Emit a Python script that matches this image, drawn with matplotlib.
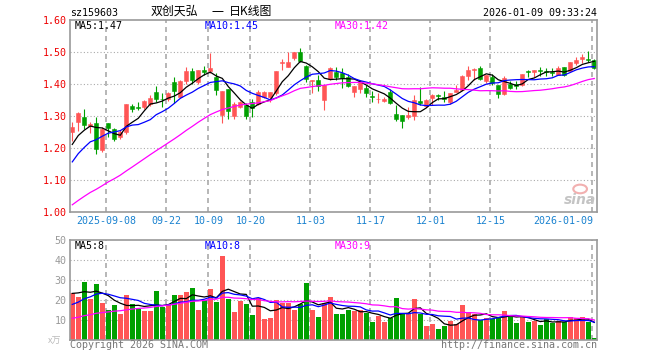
import numpy as np
import pandas as pd
import matplotlib
matplotlib.use("Agg")
import matplotlib.pyplot as plt
from matplotlib.patches import Ellipse

plt.rcParams['font.family'] = ['DejaVu Sans Mono', 'Noto Sans CJK SC']

# 日K数据: 2025-08-29 ~ 2026-01-09, 共 88 根
opens = [1.250, 1.281, 1.297, 1.270, 1.278, 1.193, 1.278, 1.258, 1.234, 1.250,
         1.331, 1.327, 1.327, 1.339, 1.375, 1.354, 1.352, 1.406, 1.360, 1.408,
         1.440, 1.406, 1.443, 1.440, 1.422, 1.304, 1.385, 1.300, 1.329, 1.335,
         1.345, 1.336, 1.360, 1.358, 1.371, 1.466, 1.453, 1.480, 1.500, 1.456,
         1.410, 1.411, 1.349, 1.415, 1.437, 1.434, 1.422, 1.374, 1.383, 1.389,
         1.361, 1.352, 1.348, 1.375, 1.307, 1.302, 1.297, 1.301, 1.347, 1.331,
         1.355, 1.367, 1.359, 1.344, 1.375, 1.382, 1.425, 1.445, 1.450, 1.408,
         1.422, 1.396, 1.368, 1.401, 1.400, 1.396, 1.441, 1.437, 1.443, 1.440,
         1.437, 1.427, 1.453, 1.440, 1.467, 1.479, 1.479, 1.474]
closes = [1.266, 1.309, 1.273, 1.275, 1.198, 1.258, 1.264, 1.229, 1.250, 1.337,
          1.323, 1.325, 1.346, 1.356, 1.354, 1.352, 1.372, 1.377, 1.409, 1.440,
          1.414, 1.443, 1.438, 1.450, 1.380, 1.377, 1.315, 1.337, 1.344, 1.300,
          1.325, 1.376, 1.376, 1.374, 1.440, 1.470, 1.470, 1.500, 1.472, 1.415,
          1.412, 1.394, 1.398, 1.450, 1.422, 1.419, 1.393, 1.393, 1.408, 1.371,
          1.359, 1.354, 1.354, 1.341, 1.290, 1.284, 1.303, 1.349, 1.341, 1.349,
          1.367, 1.362, 1.352, 1.372, 1.382, 1.424, 1.443, 1.448, 1.417, 1.427,
          1.404, 1.370, 1.420, 1.389, 1.393, 1.430, 1.439, 1.443, 1.440, 1.436,
          1.433, 1.450, 1.427, 1.469, 1.476, 1.484, 1.476, 1.450]
highs = [1.281, 1.311, 1.323, 1.281, 1.297, 1.265, 1.279, 1.262, 1.257, 1.338,
         1.337, 1.344, 1.349, 1.365, 1.394, 1.373, 1.375, 1.423, 1.412, 1.453,
         1.450, 1.445, 1.456, 1.498, 1.435, 1.377, 1.385, 1.344, 1.347, 1.342,
         1.352, 1.380, 1.378, 1.376, 1.441, 1.478, 1.499, 1.501, 1.512, 1.460,
         1.413, 1.427, 1.398, 1.453, 1.453, 1.450, 1.432, 1.394, 1.411, 1.398,
         1.378, 1.373, 1.359, 1.385, 1.333, 1.302, 1.328, 1.366, 1.391, 1.352,
         1.370, 1.370, 1.377, 1.372, 1.396, 1.427, 1.456, 1.449, 1.456, 1.428,
         1.430, 1.397, 1.424, 1.409, 1.409, 1.430, 1.443, 1.444, 1.453, 1.450,
         1.450, 1.456, 1.454, 1.470, 1.484, 1.495, 1.502, 1.477]
lows = [1.222, 1.252, 1.258, 1.247, 1.182, 1.188, 1.234, 1.223, 1.229, 1.245,
        1.313, 1.320, 1.323, 1.330, 1.344, 1.328, 1.346, 1.340, 1.356, 1.401,
        1.401, 1.401, 1.429, 1.435, 1.365, 1.279, 1.290, 1.290, 1.325, 1.292,
        1.297, 1.333, 1.357, 1.345, 1.365, 1.444, 1.453, 1.474, 1.468, 1.406,
        1.373, 1.378, 1.318, 1.412, 1.412, 1.388, 1.390, 1.359, 1.373, 1.359,
        1.343, 1.341, 1.344, 1.338, 1.284, 1.263, 1.292, 1.289, 1.333, 1.328,
        1.335, 1.349, 1.344, 1.338, 1.375, 1.382, 1.414, 1.414, 1.414, 1.404,
        1.396, 1.356, 1.365, 1.385, 1.385, 1.393, 1.422, 1.422, 1.425, 1.425,
        1.425, 1.427, 1.425, 1.440, 1.458, 1.466, 1.469, 1.448]
# 成交量(万)
volumes = [23.3, 21.3, 29, 20.5, 28, 18.5, 15, 17.5, 13, 22.5,
           18, 15.7, 14.7, 14.7, 24.5, 16.5, 18, 22.5, 22.5, 24,
           26, 15, 20, 25.5, 19, 42, 20.5, 14, 19.5, 18,
           12.5, 21, 10.5, 11, 20, 18.5, 18.5, 15, 18, 28.5,
           15, 11.5, 18.5, 21.5, 13, 13, 15, 14.5, 15, 13.5,
           9, 12, 9, 11, 21, 13, 13, 20.5, 13, 7,
           8, 5.5, 7, 9.5, 8, 17.5, 14, 13, 10, 11,
           10.5, 11.5, 14.5, 12.5, 8.5, 11.5, 9, 9.5, 7.5, 10.5,
           8.5, 9.5, 9, 11.5, 11, 11.5, 9, 1]

# 图里看不到的前 29 个交易日, 只用来让均线起点对得上
pre_close = [0.90, 0.89, 0.91, 0.90, 0.92, 0.91, 0.93, 0.92, 0.94, 0.95,
             0.94, 0.96, 0.97, 0.98, 0.99, 1.00, 1.01, 1.02, 1.03, 1.04,
             1.05, 1.08, 1.10, 1.13, 1.15, 1.17, 1.19, 1.21, 1.22]
pre_volume = [6, 5, 7, 6, 8, 5, 6, 7, 9, 6, 7, 8, 6, 9, 8, 7, 10, 8, 9, 11,
              10, 12, 11, 14, 14.5, 20, 26, 22, 25.2]

tick_idx = [6, 16, 23, 30, 40, 50, 60, 70, 87]
tick_labels = ['2025-09-08', '09-22', '10-09', '10-20', '11-03',
               '11-17', '12-01', '12-15', '2026-01-09']
price_ticks = [1.0, 1.1, 1.2, 1.3, 1.4, 1.5, 1.6]
vol_ticks = [10, 20, 30, 40, 50]

RED, GREEN = '#ff5555', '#00a000'
W, H = 660, 360
CJK = ['Noto Sans CJK SC', 'DejaVu Sans']


def px(x, y):
    return x / W, 1 - y / H


n = len(closes)
x = np.arange(n)
o, c, hi, lo = map(np.array, (opens, closes, highs, lows))
up = c >= o
colors = np.where(up, RED, GREEN)

close_all = pd.Series(pre_close + closes)
vol_all = pd.Series(pre_volume + volumes)
ma = {k: close_all.rolling(k).mean().values[len(pre_close):] for k in (5, 10, 30)}
vma = {k: vol_all.rolling(k).mean().values[len(pre_volume):] for k in (5, 10, 30)}
ma_colors = {5: 'black', 10: '#0000ff', 30: '#ff00ff'}

fig = plt.figure(figsize=(6.6, 3.6), dpi=100)
ax = fig.add_axes([70 / W, 1 - 212 / H, 527 / W, 192 / H])
axv = fig.add_axes([70 / W, 1 - 340 / H, 527 / W, 100 / H])

for a in (ax, axv):
    a.set_xlim(-0.38, 87.45)
    for s in a.spines.values():
        s.set_color('#999999')
        s.set_linewidth(1.2)
    a.set_xticks([])
    a.tick_params(axis='y', length=0, pad=2.5)
    for t in tick_idx:
        a.axvline(t - 0.33, color='#aaaaaa', ls=(0, (3, 2.4)), lw=1.2, zorder=0)

# K线
ax.vlines(x, lo, hi, colors=colors, lw=0.8, zorder=2)
body = np.maximum(np.abs(c - o), 0.0015)
ax.bar(x, body, bottom=np.minimum(o, c), width=0.72, color=colors,
       edgecolor=colors, lw=0.4, zorder=2)
for k in (5, 10, 30):
    ax.plot(x, ma[k], color=ma_colors[k], lw=0.9, zorder=3)
ax.set_ylim(1.0, 1.6)
ax.set_yticks(price_ticks)
ax.set_yticklabels(['%.2f' % v for v in price_ticks], color='#ee0000', fontsize=7.2)
for v in price_ticks[1:-1]:
    ax.axhline(v, color='#aaaaaa', ls=(0, (1, 2)), lw=0.8, zorder=0)

for t, lab in zip(tick_idx, tick_labels):
    ha = 'right' if t == tick_idx[-1] else 'center'
    xx = t - 0.33 + (0.1 if ha == 'right' else 0)
    ax.text(xx, -0.047, lab, transform=ax.get_xaxis_transform(), ha=ha, va='center',
            color='#1a82d0', fontsize=7.2, clip_on=False)

# 成交量
axv.bar(x, volumes, width=0.83, color=colors, zorder=2)
for k in (5, 10, 30):
    axv.plot(x, vma[k], color=ma_colors[k], lw=0.9, zorder=3)
axv.set_ylim(0, 50)
axv.set_yticks(vol_ticks)
axv.set_yticklabels([str(v) for v in vol_ticks], color='#999999', fontsize=7.2)
for v in vol_ticks[:-1]:
    axv.axhline(v, color='#aaaaaa', ls=(0, (1, 2)), lw=0.8, zorder=0)

# 新浪水印
ax.add_patch(Ellipse((0.968, 0.12), 0.026, 0.045, transform=ax.transAxes,
                     fill=False, ec='#f2b0b0', lw=1.5))
ax.text(0.998, 0.065, 'sina', transform=ax.transAxes, ha='right', va='center',
        family='DejaVu Sans', fontsize=10, fontweight='bold', style='italic',
        color='#c4c4c4')

# 文字
fig.text(*px(70, 13), 'sz159603', fontsize=7.2, va='center')
fig.text(*px(151, 11.5), '双创天弘', fontsize=8.6, va='center', family=CJK)
fig.text(*px(212, 11.5), '一', fontsize=8.6, va='center', family=CJK)
fig.text(*px(229, 11.5), '日K线图', fontsize=8.6, va='center', family=CJK)
fig.text(*px(597, 13), '2026-01-09 09:33:24', fontsize=7.2, va='center', ha='right')

fig.text(*px(74.7, 26.3), 'MA5:1.47', fontsize=7.2, va='center', color='black')
fig.text(*px(205, 26.3), 'MA10:1.45', fontsize=7.2, va='center', color='#0000ff')
fig.text(*px(335, 26.3), 'MA30:1.42', fontsize=7.2, va='center', color='#ff00ff')
fig.text(*px(74.7, 246.3), 'MA5:8', fontsize=7.2, va='center', color='black')
fig.text(*px(205, 246.3), 'MA10:8', fontsize=7.2, va='center', color='#0000ff')
fig.text(*px(335, 246.3), 'MA30:9', fontsize=7.2, va='center', color='#ff00ff')

fig.text(*px(48, 341), 'x万', fontsize=6.5, va='center', color='#bbbbbb', family=CJK)
fig.text(*px(70, 345.5), 'Copyright 2026 SINA.COM', fontsize=7.2, va='center',
         color='#777777')
fig.text(*px(597, 345.5), 'http://finance.sina.com.cn', fontsize=7.2, va='center',
         ha='right', color='#777777')

fig.savefig('out.png', dpi=100)
